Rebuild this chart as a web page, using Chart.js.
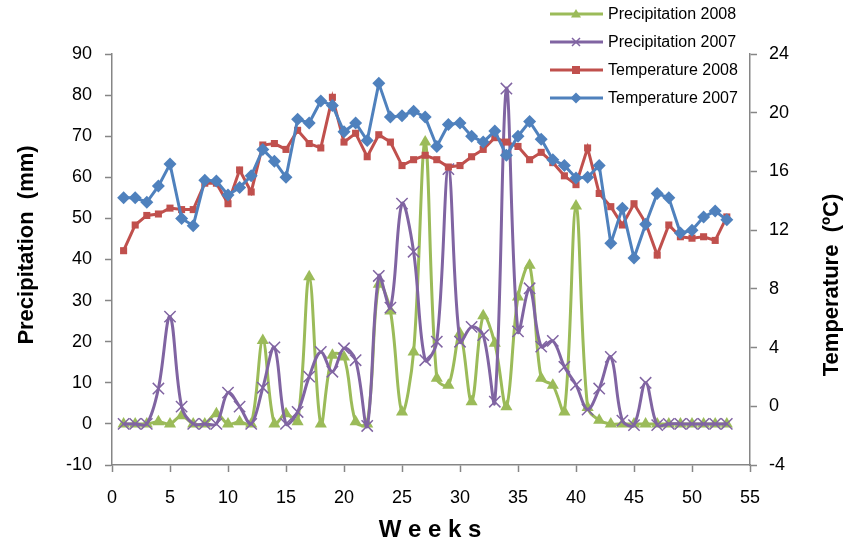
<!DOCTYPE html>
<html>
<head>
<meta charset="utf-8">
<script src="https://cdn.jsdelivr.net/npm/chart.js@4.4.1/dist/chart.umd.min.js"></script>
<style>
  html, body { margin: 0; padding: 0; background: #fff; }
  #wrap { position: relative; width: 847px; height: 545px; }
</style>
</head>
<body>
<div id="wrap"><canvas id="chart"></canvas></div>
<script>
// Semaines (axe X)
const weeks = [1, 2, 3, 4, 5, 6, 7, 8, 9, 10, 11, 12, 13, 14, 15, 16, 17, 18, 19, 20,
    21, 22, 23, 24, 25, 26, 27, 28, 29, 30, 31, 32, 33, 34, 35, 36, 37, 38, 39, 40,
    41, 42, 43, 44, 45, 46, 47, 48, 49, 50, 51, 52, 53];

// Précipitations (mm), axe de gauche
const precip2008 = [0, 0, 0, 0.5, 0, 2, 0, 0, 2.5, 0, 0.5, 0, 20.3, 0, 2.5, 0.5, 35.8, 0, 16.7, 16.3,
    0.5, 0, 34, 27.5, 2.9, 17.5, 68.6, 11.1, 9.4, 22, 5.4, 26.3, 19.6, 4.2, 30.9, 38.6, 11.1, 9.4, 2.9, 53,
    4, 0.9, 0, 0, 0, 0, 0, 0, 0, 0, 0, 0, 0];
const precip2007 = [0, 0, 0, 8.6, 26.1, 4.2, 0, 0, 0, 7.6, 4.2, 0, 8.8, 18.6, 0, 2.9, 11.5, 17.5, 12.7, 18.4,
    15.5, -0.5, 36, 28.3, 53.6, 41.9, 15.5, 20, 62, 20, 23.6, 21.6, 5.4, 81.6, 22.5, 33, 18.8, 20.2, 13.9, 9.5,
    3.5, 8.6, 16.3, 0.8, -0.3, 10, -0.3, 0, 0, 0, 0, 0, 0];

// Températures (°C), axe de droite
const temp2008 = [10.6, 12.35, 13, 13.1, 13.5, 13.4, 13.4, 15.2, 15.2, 13.8, 16.1, 14.6, 17.8, 17.9, 17.5, 18.8, 17.9, 17.6, 21.05, 18,
    18.6, 17, 18.5, 18, 16.4, 16.8, 17.1, 16.8, 16.3, 16.4, 17, 17.5, 18.3, 18, 17.7, 16.8, 17.3, 16.6, 15.7, 15.1,
    17.6, 14.5, 13.6, 12.35, 13.8, 12.5, 10.3, 12.35, 11.55, 11.45, 11.55, 11.3, 12.9];
const temp2007 = [14.2, 14.2, 13.9, 15, 16.5, 12.8, 12.3, 15.4, 15.35, 14.4, 14.9, 15.7, 17.5, 16.7, 15.6, 19.55, 19.3, 20.8, 20.5, 18.7,
    19.3, 18.1, 22, 19.7, 19.8, 20.1, 19.7, 17.7, 19.2, 19.3, 18.4, 18, 18.75, 17.1, 18.4, 19.4, 18.2, 16.8, 16.4, 15.55,
    15.6, 16.4, 11.1, 13.5, 10.1, 12.4, 14.5, 14.2, 11.8, 12, 12.9, 13.3, 12.7];

// Graduations
const xTicks = { min: 0, max: 55, step: 5 };
const precipTicks = { min: -10, max: 90, step: 10 };
const tempTicks = { min: -4, max: 24, step: 4 };

const FONT = '"Liberation Sans", Arial, sans-serif';
const AXIS_GREY = '#868686';

const colors = {
    p2008: '#9BBB59',
    p2007: '#8064A2',
    t2008: '#C0504D',
    t2007: '#4F81BD'
};

function toPoints(values) {
    return values.map((v, i) => ({ x: weeks[i], y: v }));
}

// Légende (ordre affiché)
const legendItems = [
    { label: 'Precipitation 2008', color: colors.p2008, style: 'triangle' },
    { label: 'Precipitation 2007', color: colors.p2007, style: 'crossRot' },
    { label: 'Temperature 2008', color: colors.t2008, style: 'rect' },
    { label: 'Temperature 2007', color: colors.t2007, style: 'rectRot' }
];

function drawMarker(ctx, style, x, y, color) {
    ctx.save();
    ctx.fillStyle = color;
    ctx.strokeStyle = color;
    ctx.beginPath();
    if (style === 'triangle') {
        ctx.moveTo(x, y - 5);
        ctx.lineTo(x + 5, y + 3.5);
        ctx.lineTo(x - 5, y + 3.5);
        ctx.closePath();
        ctx.fill();
    } else if (style === 'crossRot') {
        ctx.lineWidth = 1.5;
        ctx.moveTo(x - 4, y - 4); ctx.lineTo(x + 4, y + 4);
        ctx.moveTo(x + 4, y - 4); ctx.lineTo(x - 4, y + 4);
        ctx.stroke();
    } else if (style === 'rect') {
        ctx.fillRect(x - 4, y - 4, 8, 8);
    } else {
        ctx.moveTo(x, y - 5.5);
        ctx.lineTo(x + 5.5, y);
        ctx.lineTo(x, y + 5.5);
        ctx.lineTo(x - 5.5, y);
        ctx.closePath();
        ctx.fill();
    }
    ctx.restore();
}

// Légende et titres d'axes dessinés à la main (positions comme dans l'original)
const overlayPlugin = {
    id: 'overlay',
    afterDraw(chart) {
        const ctx = chart.ctx;
        ctx.save();

        // légende
        legendItems.forEach((item, i) => {
            const y = 14 + i * 28;
            ctx.strokeStyle = item.color;
            ctx.lineWidth = 3;
            ctx.beginPath();
            ctx.moveTo(550, y);
            ctx.lineTo(603, y);
            ctx.stroke();
            drawMarker(ctx, item.style, 576, y, item.color);
            ctx.fillStyle = '#000';
            ctx.font = '16px ' + FONT;
            ctx.textAlign = 'left';
            ctx.textBaseline = 'middle';
            ctx.fillText(item.label, 608, y + 1);
        });

        ctx.fillStyle = '#000';
        ctx.font = 'bold 22px ' + FONT;
        ctx.textAlign = 'center';
        ctx.textBaseline = 'middle';

        // titre gauche
        ctx.save();
        ctx.translate(27, 245);
        ctx.rotate(-Math.PI / 2);
        ctx.fillText('Precipitation  (mm)', 0, 0);
        ctx.restore();

        // titre droit
        ctx.save();
        ctx.translate(832, 285);
        ctx.rotate(-Math.PI / 2);
        ctx.fillText('Temperature  (ºC)', 0, 0);
        ctx.restore();

        // titre X
        ctx.font = 'bold 24px ' + FONT;
        ctx.fillText('W e e k s', 430, 530);

        ctx.restore();
    }
};

const ctx = document.getElementById('chart').getContext('2d');
const myChart = new Chart(ctx, {
    type: 'line',
    data: {
        datasets: [
            {
                label: 'Temperature 2007',
                data: toPoints(temp2007),
                yAxisID: 'yT',
                borderColor: colors.t2007,
                backgroundColor: colors.t2007,
                borderWidth: 3,
                pointStyle: 'rectRot',
                pointRadius: 6.5,
                pointBorderWidth: 0,
                tension: 0
            },
            {
                label: 'Temperature 2008',
                data: toPoints(temp2008),
                yAxisID: 'yT',
                borderColor: colors.t2008,
                backgroundColor: colors.t2008,
                borderWidth: 3,
                pointStyle: 'rect',
                pointRadius: 5,
                pointBorderWidth: 0,
                tension: 0
            },
            {
                label: 'Precipitation 2007',
                data: toPoints(precip2007),
                yAxisID: 'yP',
                borderColor: colors.p2007,
                backgroundColor: colors.p2007,
                borderWidth: 3,
                pointStyle: 'crossRot',
                pointRadius: 8,
                pointBorderWidth: 1.5,
                tension: 0.35
            },
            {
                label: 'Precipitation 2008',
                data: toPoints(precip2008),
                yAxisID: 'yP',
                borderColor: colors.p2008,
                backgroundColor: colors.p2008,
                borderWidth: 3,
                pointStyle: 'triangle',
                pointRadius: 7,
                pointBorderWidth: 0,
                tension: 0.35
            }
        ]
    },
    options: {
        responsive: true,
        maintainAspectRatio: false,
        animation: false,
        devicePixelRatio: 1,
        layout: { padding: { top: 54, left: 0, right: 0, bottom: 0 } },
        elements: { line: { capBezierPoints: false } },
        plugins: {
            legend: { display: false },
            tooltip: { enabled: false }
        },
        scales: {
            x: {
                type: 'linear',
                position: 'bottom',
                min: xTicks.min,
                max: xTicks.max,
                afterFit: s => { s.height = 80; },
                ticks: { stepSize: xTicks.step, color: '#000', font: { family: FONT, size: 18 }, padding: 15, maxRotation: 0 },
                grid: { drawOnChartArea: false, tickLength: 7, tickColor: AXIS_GREY, tickWidth: 1.5 },
                border: { color: AXIS_GREY, width: 1.5 }
            },
            yP: {
                type: 'linear',
                position: 'left',
                min: precipTicks.min,
                max: precipTicks.max,
                afterFit: s => { s.width = 112; },
                ticks: { stepSize: precipTicks.step, color: '#000', font: { family: FONT, size: 18 }, padding: 13 },
                grid: { drawOnChartArea: false, tickLength: 7, tickColor: AXIS_GREY, tickWidth: 1.5 },
                border: { color: AXIS_GREY, width: 1.5 }
            },
            yT: {
                type: 'linear',
                position: 'right',
                min: tempTicks.min,
                max: tempTicks.max,
                afterFit: s => { s.width = 97; },
                ticks: { stepSize: tempTicks.step, color: '#000', font: { family: FONT, size: 18 }, padding: 12 },
                grid: { drawOnChartArea: false, tickLength: 7, tickColor: AXIS_GREY, tickWidth: 1.5 },
                border: { color: AXIS_GREY, width: 1.5 }
            }
        }
    },
    plugins: [overlayPlugin]
});
</script>
</body>
</html>
